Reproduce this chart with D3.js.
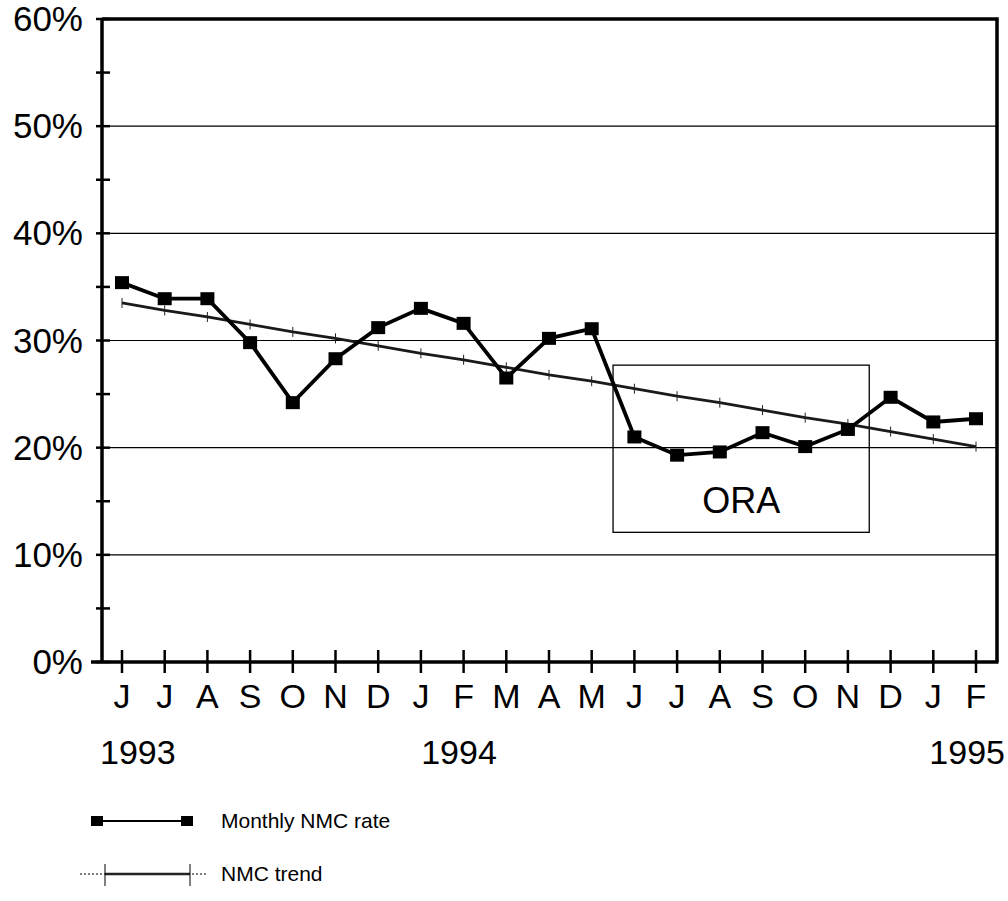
<!DOCTYPE html>
<html>
<head>
<meta charset="utf-8">
<script src="https://cdn.jsdelivr.net/npm/d3@7"></script>
<style>
  body { margin: 0; background: #fff; }
  text { font-family: "Liberation Sans", Arial, sans-serif; fill: #000; }
</style>
</head>
<body>
<svg id="chart" width="1008" height="901"></svg>
<script>
// data
const months = ["J", "J", "A", "S", "O", "N", "D", "J", "F", "M", "A", "M", "J", "J", "A", "S", "O", "N", "D", "J", "F"];
const monthlyRate = [35.4, 33.9, 33.9, 29.8, 24.2, 28.3, 31.2, 33.0, 31.6, 26.5, 30.2, 31.1, 21.0, 19.3, 19.6, 21.4, 20.1, 21.7, 24.7, 22.4, 22.7];
const trendRate = [33.5, 32.8, 32.2, 31.5, 30.8, 30.2, 29.5, 28.8, 28.2, 27.5, 26.8, 26.2, 25.5, 24.8, 24.2, 23.5, 22.8, 22.2, 21.5, 20.8, 20.1];
const yTicks = [0, 10, 20, 30, 40, 50, 60];
const yMinorTicks = [5, 15, 25, 35, 45, 55];
const years = [{ label: "1993", anchor: "start" }, { label: "1994", anchor: "middle" }, { label: "1995", anchor: "end" }];
const oraBox = { from: 11.5, to: 17.5, top: 27.7, bottom: 12.1, label: "ORA" };

const svg = d3.select("#chart");

const x = d3.scaleLinear().domain([0, months.length - 1]).range([122, 976]);
const y = d3.scaleLinear().domain([0, 60]).range([662, 19]);
const left = 102, right = 997;

// gridlines
svg.append("g")
  .selectAll("line")
  .data(yTicks.filter(d => d > 0 && d < 60))
  .enter().append("line")
  .attr("x1", left).attr("x2", right)
  .attr("y1", d => y(d)).attr("y2", d => y(d))
  .attr("stroke", "#000").attr("stroke-width", 1.2);

// frame: top and right
svg.append("path")
  .attr("d", `M${left},${y(60)}H${right}V${y(0)}`)
  .attr("fill", "none").attr("stroke", "#000").attr("stroke-width", 3.5);

// y axis
const yAxis = svg.append("g");
yAxis.append("line")
  .attr("x1", left).attr("x2", left).attr("y1", y(60) - 1).attr("y2", y(0))
  .attr("stroke", "#000").attr("stroke-width", 3.5);
yAxis.selectAll("line.tick")
  .data(yTicks.concat(yMinorTicks))
  .enter().append("line")
  .attr("class", "tick")
  .attr("x1", left - 6).attr("x2", left + 8)
  .attr("y1", d => y(d)).attr("y2", d => y(d))
  .attr("stroke", "#000").attr("stroke-width", 2.5);
yAxis.selectAll("text")
  .data(yTicks)
  .enter().append("text")
  .attr("x", 83)
  .attr("y", d => y(d) + 12)
  .attr("text-anchor", "end")
  .attr("font-size", 35)
  .text(d => d + "%");

// x axis
const xAxis = svg.append("g");
xAxis.append("line")
  .attr("x1", 91).attr("x2", right + 1.5).attr("y1", y(0)).attr("y2", y(0))
  .attr("stroke", "#000").attr("stroke-width", 3.5);
xAxis.selectAll("line.tick")
  .data(months)
  .enter().append("line")
  .attr("class", "tick")
  .attr("x1", (d, i) => x(i)).attr("x2", (d, i) => x(i))
  .attr("y1", y(0) - 12).attr("y2", y(0) + 11)
  .attr("stroke", "#000").attr("stroke-width", 2.5);
xAxis.selectAll("text")
  .data(months)
  .enter().append("text")
  .attr("x", (d, i) => x(i))
  .attr("y", 708)
  .attr("text-anchor", "middle")
  .attr("font-size", 34)
  .text(d => d);

// years
svg.selectAll("text.year")
  .data(years)
  .enter().append("text")
  .attr("class", "year")
  .attr("x", (d, i) => [100, 459, 1005][i])
  .attr("y", 764)
  .attr("text-anchor", d => d.anchor)
  .attr("font-size", 34)
  .text(d => d.label);

// ORA box
svg.append("rect")
  .attr("x", x(oraBox.from)).attr("y", y(oraBox.top))
  .attr("width", x(oraBox.to) - x(oraBox.from))
  .attr("height", y(oraBox.bottom) - y(oraBox.top))
  .attr("fill", "none").attr("stroke", "#000").attr("stroke-width", 1.3);
svg.append("text")
  .attr("x", (x(oraBox.from) + x(oraBox.to)) / 2)
  .attr("y", 513)
  .attr("text-anchor", "middle")
  .attr("font-size", 36)
  .text(oraBox.label);

// trend line
const trendLine = d3.line().x((d, i) => x(i)).y(d => y(d));
svg.append("path")
  .datum(trendRate)
  .attr("d", trendLine)
  .attr("fill", "none").attr("stroke", "#1a1a1a").attr("stroke-width", 2.8);
svg.append("g")
  .selectAll("line")
  .data(trendRate)
  .enter().append("line")
  .attr("x1", (d, i) => x(i)).attr("x2", (d, i) => x(i))
  .attr("y1", d => y(d) - 5).attr("y2", d => y(d) + 5)
  .attr("stroke", "#222").attr("stroke-width", 1);

// monthly line
const rateLine = d3.line().x((d, i) => x(i)).y(d => y(d));
svg.append("path")
  .datum(monthlyRate)
  .attr("d", rateLine)
  .attr("fill", "none").attr("stroke", "#000").attr("stroke-width", 3.8);
svg.append("g")
  .selectAll("rect")
  .data(monthlyRate)
  .enter().append("rect")
  .attr("x", (d, i) => x(i) - 7).attr("y", d => y(d) - 6.5)
  .attr("width", 14).attr("height", 13)
  .attr("fill", "#000");

// legend
const leg = svg.append("g");
leg.append("line")
  .attr("x1", 97).attr("x2", 187).attr("y1", 821).attr("y2", 821)
  .attr("stroke", "#000").attr("stroke-width", 2);
leg.selectAll("rect")
  .data([97, 187])
  .enter().append("rect")
  .attr("x", d => d - 6).attr("y", 816)
  .attr("width", 12).attr("height", 10)
  .attr("fill", "#000");
leg.append("text")
  .attr("x", 221).attr("y", 828)
  .attr("font-size", 21)
  .text("Monthly NMC rate");

leg.append("line")
  .attr("x1", 80).attr("x2", 206).attr("y1", 874).attr("y2", 874)
  .attr("stroke", "#000").attr("stroke-width", 1).attr("stroke-dasharray", "2,2");
leg.append("line")
  .attr("x1", 105).attr("x2", 190).attr("y1", 874).attr("y2", 874)
  .attr("stroke", "#222").attr("stroke-width", 2.5);
leg.selectAll("line.tk")
  .data([105, 190])
  .enter().append("line")
  .attr("class", "tk")
  .attr("x1", d => d).attr("x2", d => d).attr("y1", 864).attr("y2", 886)
  .attr("stroke", "#000").attr("stroke-width", 1);
leg.append("text")
  .attr("x", 221).attr("y", 881)
  .attr("font-size", 21)
  .text("NMC trend");
</script>
</body>
</html>
